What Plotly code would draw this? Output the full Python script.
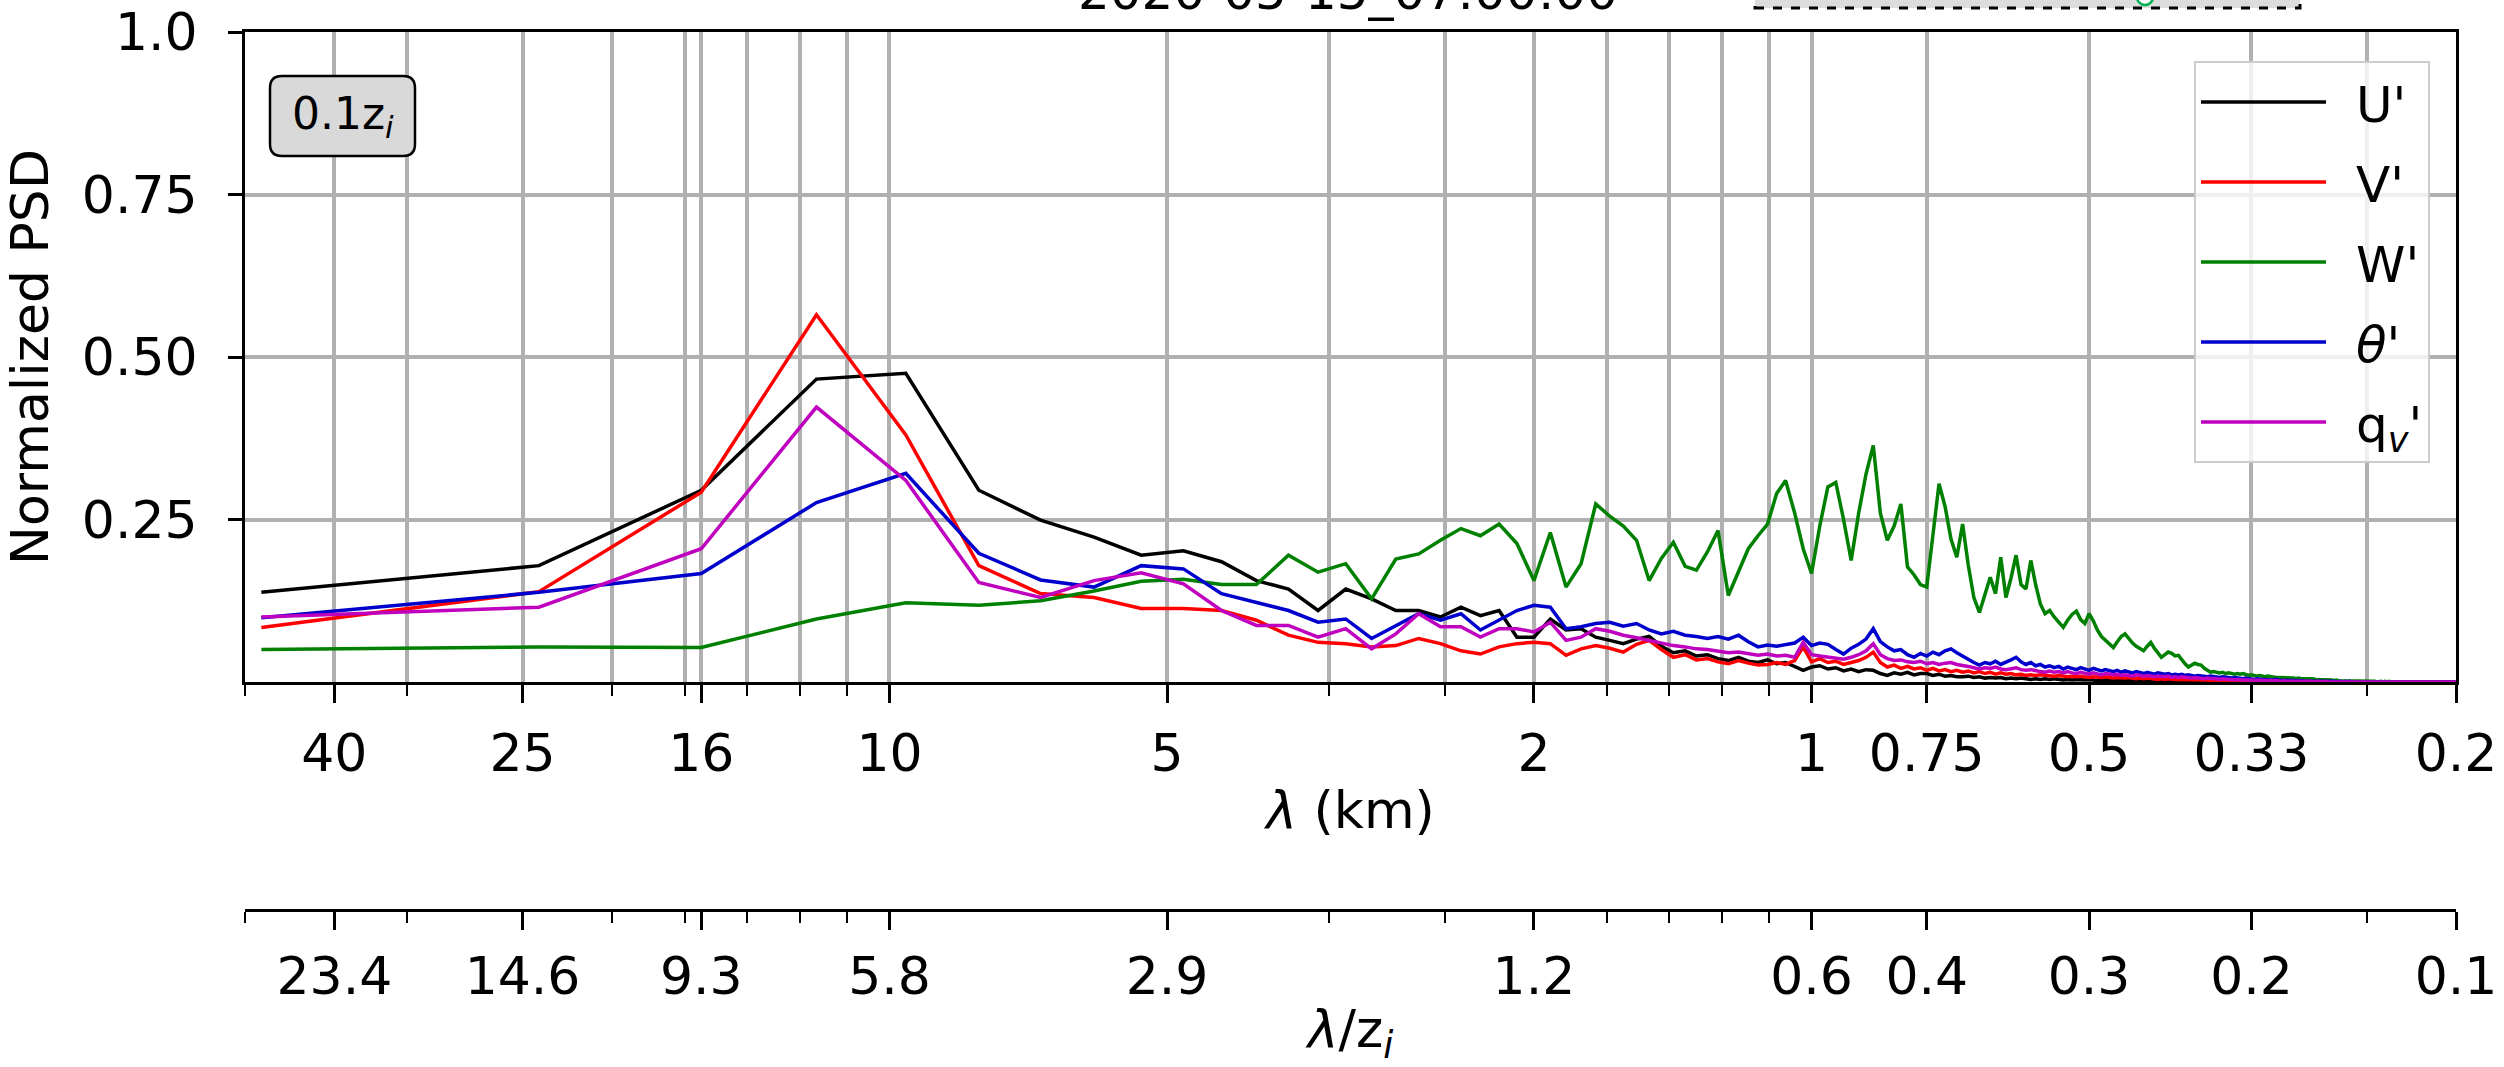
import math
import plotly.graph_objects as go

# ---------------- data ----------------
wavelength_km = [
    48, 24, 16, 12, 9.6, 8, 6.857, 6, 5.333, 4.8,
    4.364, 4, 3.692, 3.429, 3.2, 3, 2.824, 2.667, 2.526, 2.4,
    2.286, 2.182, 2.087, 2, 1.92, 1.846, 1.778, 1.714, 1.655, 1.6,
    1.548, 1.5, 1.455, 1.412, 1.371, 1.333, 1.297, 1.263, 1.231, 1.2,
    1.171, 1.143, 1.116, 1.091, 1.067, 1.043, 1.021, 1.0, 0.9796, 0.96,
    0.9412, 0.9231, 0.9057, 0.8889, 0.8727, 0.8571, 0.8421, 0.8276, 0.8136, 0.8,
    0.7869, 0.7742, 0.7619, 0.75, 0.7385, 0.7273, 0.7164, 0.7059, 0.6957, 0.6857,
    0.6761, 0.6667, 0.6575, 0.6486, 0.64, 0.6316, 0.6234, 0.6154, 0.6076, 0.6,
    0.5926, 0.5854, 0.5783, 0.5714, 0.5647, 0.5581, 0.5517, 0.5455, 0.5393, 0.5333,
    0.5275, 0.5217, 0.5161, 0.5106, 0.5053, 0.5, 0.4948, 0.4898, 0.4848, 0.48,
    0.4752, 0.4706, 0.466, 0.4615, 0.4571, 0.4528, 0.4486, 0.4444, 0.4404, 0.4364,
    0.4324, 0.4286, 0.4248, 0.4211, 0.4174, 0.4138, 0.4103, 0.4068, 0.4034, 0.4,
    0.3967, 0.3934, 0.3902, 0.3871, 0.384, 0.381, 0.378, 0.375, 0.3721, 0.3692,
    0.3664, 0.3636, 0.3609, 0.3582, 0.3556, 0.3529, 0.3504, 0.3478, 0.3453, 0.3429,
    0.3404, 0.338, 0.3357, 0.3333, 0.331, 0.3288, 0.3265, 0.3243, 0.3221, 0.32,
    0.3179, 0.3158, 0.3137, 0.3117, 0.3097, 0.3077, 0.3057, 0.3038, 0.3019, 0.3,
    0.2981, 0.2963, 0.2945, 0.2927, 0.2909, 0.2892, 0.2874, 0.2857, 0.284, 0.2824,
    0.2807, 0.2791, 0.2775, 0.2759, 0.2743, 0.2727, 0.2712, 0.2697, 0.2682, 0.2667,
    0.2652, 0.2637, 0.2623, 0.2609, 0.2595, 0.2581, 0.2567, 0.2553, 0.254, 0.2526,
    0.2513, 0.25, 0.2487, 0.2474, 0.2462, 0.2449, 0.2437, 0.2424, 0.2412, 0.24,
    0.2388, 0.2376, 0.2365, 0.2353, 0.2341, 0.233, 0.2319, 0.2308, 0.2297, 0.2286,
    0.2275, 0.2264, 0.2254, 0.2243, 0.2233, 0.2222, 0.2212, 0.2202, 0.2192, 0.2182,
    0.2172, 0.2162, 0.2152, 0.2143, 0.2133, 0.2124, 0.2115, 0.2105, 0.2096, 0.2087,
    0.2078, 0.2069, 0.206, 0.2051, 0.2043, 0.2034, 0.2025, 0.2017, 0.2008, 0.2,
]

psd_u = [
    0.138, 0.179, 0.295, 0.466, 0.475, 0.295, 0.249, 0.223, 0.195, 0.202,
    0.185, 0.156, 0.143, 0.110, 0.143, 0.128, 0.110, 0.110, 0.100, 0.115,
    0.102, 0.110, 0.069, 0.069, 0.097, 0.080, 0.082, 0.069, 0.064, 0.059,
    0.066, 0.070, 0.055, 0.045, 0.048, 0.040, 0.042, 0.036, 0.033, 0.038,
    0.032, 0.030, 0.034, 0.028, 0.030, 0.024, 0.018, 0.023, 0.025, 0.020,
    0.022, 0.017, 0.020, 0.016, 0.019, 0.018, 0.013, 0.010, 0.014, 0.012,
    0.015, 0.011, 0.013, 0.013, 0.010, 0.012, 0.009, 0.010, 0.008, 0.008,
    0.009, 0.007, 0.008, 0.006, 0.007, 0.006, 0.007, 0.005, 0.006, 0.005,
    0.006, 0.005, 0.004, 0.005, 0.004, 0.005, 0.004, 0.005, 0.004, 0.003,
    0.004, 0.003, 0.004, 0.003, 0.003, 0.004, 0.003, 0.002, 0.003, 0.003,
    0.002, 0.003, 0.002, 0.003, 0.002, 0.002, 0.003, 0.002, 0.002, 0.002,
    0.001, 0.002, 0.002, 0.001, 0.002, 0.001, 0.002, 0.001, 0.001, 0.002,
    0.001, 0.001, 0.002, 0.001, 0.001, 0.001, 0.001, 0.002, 0.001, 0.001,
    0.001, 0.001, 0.001, 0.001, 0.001, 0.001, 0.001, 0.001, 0.001, 0.001,
    0.001, 0.001, 0.000, 0.001, 0.001, 0.000, 0.001, 0.000, 0.001, 0.000,
    0.000, 0.001, 0.000, 0.001, 0.000, 0.000, 0.001, 0.000, 0.000, 0.000,
    0.001, 0.000, 0.000, 0.000, 0.000, 0.001, 0.000, 0.000, 0.000, 0.000,
    0.000, 0.000, 0.000, 0.000, 0.000, 0.000, 0.000, 0.000, 0.000, 0.000,
    0.000, 0.000, 0.000, 0.000, 0.000, 0.000, 0.000, 0.000, 0.000, 0.000,
    0.000, 0.000, 0.000, 0.000, 0.000, 0.000, 0.000, 0.000, 0.000, 0.000,
    0.000, 0.000, 0.000, 0.000, 0.000, 0.000, 0.000, 0.000, 0.000, 0.000,
    0.000, 0.000, 0.000, 0.000, 0.000, 0.000, 0.000, 0.000, 0.000, 0.000,
    0.000, 0.000, 0.000, 0.000, 0.000, 0.000, 0.000, 0.000, 0.000, 0.000,
    0.000, 0.000, 0.000, 0.000, 0.000, 0.000, 0.000, 0.000, 0.000, 0.000,
]

psd_v = [
    0.084, 0.139, 0.292, 0.565, 0.380, 0.179, 0.136, 0.130, 0.113, 0.113,
    0.110, 0.095, 0.072, 0.061, 0.059, 0.054, 0.056, 0.067, 0.059, 0.048,
    0.043, 0.054, 0.059, 0.061, 0.059, 0.041, 0.051, 0.056, 0.052, 0.046,
    0.058, 0.064, 0.050, 0.038, 0.042, 0.034, 0.036, 0.031, 0.028, 0.033,
    0.029, 0.026, 0.027, 0.030, 0.027, 0.033, 0.054, 0.031, 0.036, 0.030,
    0.032, 0.027, 0.030, 0.033, 0.038, 0.046, 0.030, 0.023, 0.026, 0.021,
    0.024, 0.020, 0.022, 0.018, 0.021, 0.017, 0.019, 0.016, 0.018, 0.015,
    0.017, 0.014, 0.016, 0.013, 0.015, 0.012, 0.014, 0.012, 0.013, 0.011,
    0.012, 0.010, 0.011, 0.010, 0.011, 0.010, 0.010, 0.009, 0.010, 0.009,
    0.008, 0.009, 0.008, 0.009, 0.008, 0.007, 0.008, 0.007, 0.007, 0.008,
    0.007, 0.006, 0.007, 0.006, 0.006, 0.007, 0.006, 0.005, 0.006, 0.005,
    0.006, 0.005, 0.005, 0.004, 0.005, 0.004, 0.005, 0.004, 0.004, 0.004,
    0.004, 0.003, 0.004, 0.003, 0.003, 0.004, 0.003, 0.003, 0.003, 0.002,
    0.003, 0.002, 0.003, 0.002, 0.002, 0.002, 0.002, 0.002, 0.002, 0.002,
    0.002, 0.001, 0.002, 0.001, 0.002, 0.001, 0.001, 0.001, 0.001, 0.001,
    0.001, 0.001, 0.001, 0.001, 0.001, 0.001, 0.001, 0.001, 0.001, 0.001,
    0.001, 0.001, 0.000, 0.001, 0.001, 0.000, 0.001, 0.000, 0.001, 0.000,
    0.000, 0.000, 0.000, 0.000, 0.000, 0.000, 0.000, 0.000, 0.000, 0.000,
    0.000, 0.000, 0.000, 0.000, 0.000, 0.000, 0.000, 0.000, 0.000, 0.000,
    0.000, 0.000, 0.000, 0.000, 0.000, 0.000, 0.000, 0.000, 0.000, 0.000,
    0.000, 0.000, 0.000, 0.000, 0.000, 0.000, 0.000, 0.000, 0.000, 0.000,
    0.000, 0.000, 0.000, 0.000, 0.000, 0.000, 0.000, 0.000, 0.000, 0.000,
    0.000, 0.000, 0.000, 0.000, 0.000, 0.000, 0.000, 0.000, 0.000, 0.000,
    0.000, 0.000, 0.000, 0.000, 0.000, 0.000, 0.000, 0.000, 0.000, 0.000,
]

psd_w = [
    0.050, 0.054, 0.053, 0.097, 0.122, 0.118, 0.125, 0.140, 0.155, 0.158,
    0.150, 0.150, 0.195, 0.169, 0.182, 0.128, 0.189, 0.197, 0.218, 0.236,
    0.225, 0.243, 0.213, 0.156, 0.230, 0.146, 0.182, 0.274, 0.255, 0.240,
    0.218, 0.156, 0.190, 0.215, 0.178, 0.172, 0.200, 0.233, 0.133, 0.170,
    0.205, 0.225, 0.243, 0.290, 0.310, 0.260, 0.205, 0.167, 0.240, 0.300,
    0.307, 0.250, 0.187, 0.260, 0.320, 0.364, 0.260, 0.218, 0.240, 0.274,
    0.177, 0.165, 0.150, 0.146, 0.230, 0.305, 0.270, 0.220, 0.192, 0.243,
    0.180, 0.130, 0.107, 0.135, 0.161, 0.136, 0.192, 0.130, 0.160, 0.195,
    0.150, 0.143, 0.187, 0.150, 0.120, 0.105, 0.110, 0.100, 0.092, 0.084,
    0.095, 0.104, 0.109, 0.096, 0.090, 0.105, 0.094, 0.080, 0.070, 0.064,
    0.058, 0.053, 0.062, 0.070, 0.074, 0.066, 0.060, 0.055, 0.052, 0.048,
    0.055, 0.061, 0.052, 0.044, 0.038, 0.042, 0.046, 0.044, 0.040, 0.041,
    0.034, 0.028, 0.023, 0.026, 0.029, 0.027, 0.026, 0.021, 0.018, 0.015,
    0.016, 0.015, 0.014, 0.015, 0.013, 0.014, 0.013, 0.012, 0.013, 0.012,
    0.013, 0.011, 0.010, 0.011, 0.010, 0.009, 0.010, 0.009, 0.008, 0.009,
    0.008, 0.008, 0.007, 0.007, 0.007, 0.006, 0.007, 0.006, 0.006, 0.006,
    0.005, 0.006, 0.005, 0.005, 0.006, 0.005, 0.006, 0.005, 0.004, 0.004,
    0.004, 0.003, 0.004, 0.003, 0.003, 0.003, 0.002, 0.003, 0.002, 0.002,
    0.002, 0.002, 0.002, 0.001, 0.002, 0.001, 0.001, 0.002, 0.001, 0.001,
    0.001, 0.001, 0.001, 0.001, 0.001, 0.001, 0.000, 0.001, 0.001, 0.000,
    0.001, 0.000, 0.001, 0.000, 0.000, 0.001, 0.000, 0.000, 0.000, 0.000,
    0.000, 0.000, 0.000, 0.000, 0.000, 0.000, 0.000, 0.000, 0.000, 0.000,
    0.000, 0.000, 0.000, 0.000, 0.000, 0.000, 0.000, 0.000, 0.000, 0.000,
    0.000, 0.000, 0.000, 0.000, 0.000, 0.000, 0.000, 0.000, 0.000, 0.000,
]

psd_theta = [
    0.099, 0.138, 0.167, 0.276, 0.321, 0.198, 0.157, 0.146, 0.179, 0.174,
    0.136, 0.123, 0.110, 0.092, 0.097, 0.067, 0.087, 0.105, 0.095, 0.105,
    0.080, 0.095, 0.110, 0.118, 0.115, 0.082, 0.085, 0.090, 0.092, 0.086,
    0.090, 0.080, 0.074, 0.078, 0.072, 0.070, 0.067, 0.070, 0.066, 0.072,
    0.062, 0.054, 0.057, 0.055, 0.058, 0.060, 0.069, 0.056, 0.060, 0.058,
    0.050, 0.043, 0.052, 0.058, 0.066, 0.082, 0.062, 0.054, 0.048, 0.050,
    0.042, 0.038, 0.044, 0.040, 0.046, 0.042, 0.048, 0.051, 0.045, 0.040,
    0.034, 0.030, 0.026, 0.030, 0.028, 0.032, 0.027, 0.030, 0.034, 0.038,
    0.031, 0.027, 0.030, 0.025, 0.027, 0.023, 0.025, 0.022, 0.024, 0.020,
    0.023, 0.021, 0.019, 0.022, 0.020, 0.018, 0.021, 0.019, 0.017, 0.019,
    0.018, 0.016, 0.018, 0.015, 0.017, 0.016, 0.014, 0.016, 0.015, 0.013,
    0.015, 0.014, 0.012, 0.014, 0.013, 0.012, 0.013, 0.011, 0.012, 0.011,
    0.012, 0.010, 0.011, 0.010, 0.009, 0.010, 0.009, 0.009, 0.008, 0.009,
    0.008, 0.008, 0.007, 0.008, 0.007, 0.007, 0.006, 0.007, 0.006, 0.006,
    0.005, 0.006, 0.005, 0.005, 0.004, 0.005, 0.004, 0.004, 0.004, 0.003,
    0.003, 0.003, 0.004, 0.003, 0.003, 0.003, 0.002, 0.003, 0.002, 0.002,
    0.002, 0.002, 0.002, 0.002, 0.001, 0.002, 0.001, 0.001, 0.002, 0.001,
    0.001, 0.001, 0.001, 0.001, 0.001, 0.001, 0.001, 0.000, 0.001, 0.001,
    0.000, 0.001, 0.000, 0.001, 0.000, 0.000, 0.001, 0.000, 0.000, 0.000,
    0.000, 0.000, 0.000, 0.000, 0.000, 0.000, 0.000, 0.000, 0.000, 0.000,
    0.000, 0.000, 0.000, 0.000, 0.000, 0.000, 0.000, 0.000, 0.000, 0.000,
    0.000, 0.000, 0.000, 0.000, 0.000, 0.000, 0.000, 0.000, 0.000, 0.000,
    0.000, 0.000, 0.000, 0.000, 0.000, 0.000, 0.000, 0.000, 0.000, 0.000,
    0.000, 0.000, 0.000, 0.000, 0.000, 0.000, 0.000, 0.000, 0.000, 0.000,
]

psd_qv = [
    0.100, 0.115, 0.205, 0.423, 0.310, 0.153, 0.130, 0.156, 0.168, 0.151,
    0.110, 0.087, 0.087, 0.069, 0.082, 0.051, 0.074, 0.105, 0.085, 0.085,
    0.069, 0.082, 0.082, 0.077, 0.092, 0.064, 0.069, 0.082, 0.078, 0.072,
    0.068, 0.064, 0.060, 0.056, 0.054, 0.051, 0.050, 0.048, 0.045, 0.046,
    0.043, 0.041, 0.043, 0.040, 0.041, 0.038, 0.061, 0.042, 0.040, 0.038,
    0.036, 0.035, 0.038, 0.042, 0.048, 0.059, 0.042, 0.036, 0.033, 0.034,
    0.031, 0.030, 0.032, 0.028, 0.030, 0.027, 0.029, 0.030, 0.027, 0.026,
    0.024, 0.022, 0.020, 0.022, 0.021, 0.023, 0.020, 0.019, 0.021, 0.022,
    0.019, 0.018, 0.019, 0.017, 0.016, 0.015, 0.017, 0.015, 0.016, 0.014,
    0.016, 0.014, 0.013, 0.015, 0.013, 0.012, 0.014, 0.012, 0.011, 0.013,
    0.012, 0.011, 0.012, 0.010, 0.011, 0.010, 0.009, 0.011, 0.010, 0.009,
    0.010, 0.009, 0.008, 0.009, 0.008, 0.008, 0.009, 0.007, 0.008, 0.007,
    0.008, 0.007, 0.007, 0.006, 0.007, 0.006, 0.006, 0.005, 0.006, 0.005,
    0.005, 0.005, 0.004, 0.005, 0.004, 0.004, 0.004, 0.003, 0.004, 0.003,
    0.003, 0.003, 0.003, 0.002, 0.003, 0.002, 0.002, 0.002, 0.002, 0.002,
    0.002, 0.002, 0.002, 0.002, 0.001, 0.002, 0.001, 0.001, 0.002, 0.001,
    0.001, 0.001, 0.001, 0.001, 0.001, 0.001, 0.001, 0.000, 0.001, 0.001,
    0.000, 0.001, 0.000, 0.001, 0.000, 0.000, 0.001, 0.000, 0.000, 0.000,
    0.000, 0.000, 0.000, 0.000, 0.000, 0.000, 0.000, 0.000, 0.000, 0.000,
    0.000, 0.000, 0.000, 0.000, 0.000, 0.000, 0.000, 0.000, 0.000, 0.000,
    0.000, 0.000, 0.000, 0.000, 0.000, 0.000, 0.000, 0.000, 0.000, 0.000,
    0.000, 0.000, 0.000, 0.000, 0.000, 0.000, 0.000, 0.000, 0.000, 0.000,
    0.000, 0.000, 0.000, 0.000, 0.000, 0.000, 0.000, 0.000, 0.000, 0.000,
    0.000, 0.000, 0.000, 0.000, 0.000, 0.000, 0.000, 0.000, 0.000, 0.000,
]

series_names = ["U'", "V'", "W'", "<i>θ</i>'", "q<sub><i>v</i></sub>'"]
series_values = [psd_u, psd_v, psd_w, psd_theta, psd_qv]
series_colors = ["#000000", "#ff0000", "#008000", "#0000cd", "#bf00bf"]

major_ticks_km = [40, 25, 16, 10, 5, 2, 1, 0.75, 0.5, 0.3333, 0.2]
major_labels_km = ["40", "25", "16", "10", "5", "2", "1", "0.75", "0.5", "0.33", "0.2"]
major_labels_zi = ["23.4", "14.6", "9.3", "5.8", "2.9", "1.2", "0.6", "0.4", "0.3", "0.2", "0.1"]
minor_ticks_km = [50, 33.33, 20, 16.67, 14.29, 12.5, 11.11, 3.333, 2.5, 1.667, 1.429, 1.25, 1.111, 0.25]
y_tick_vals = [0.25, 0.5, 0.75, 1.0]
y_tick_text = ["0.25", "0.50", "0.75", "1.0"]

# ---------------- layout geometry (pixels) ----------------
W, H = 2504, 1067
ML, MR, MT, MB = 245, 48, 32, 157
PW = W - ML - MR
PH = H - MT - MB
AX_BOTTOM_PX = 682


def pxx(px):
    return (px - ML) / PW


def pxy(py):
    return (H - MB - py) / PH


FONT = "DejaVu Sans"
GRID = "#b0b0b0"
x_range = [math.log10(50), math.log10(0.2)]

fig = go.Figure()
for name, vals, col in zip(series_names, series_values, series_colors):
    fig.add_trace(go.Scatter(
        x=wavelength_km, y=vals, mode="lines", name="\u2002" + name,
        line=dict(color=col, width=3.5), legendgroup=name,
    ))

# carrier trace for the second (λ/z_i) axis
fig.add_trace(go.Scatter(
    x=[major_ticks_km[0], major_ticks_km[-1]], y=[-1, -1], xaxis="x2", yaxis="y",
    mode="markers", marker=dict(color="rgba(0,0,0,0)"), showlegend=False, hoverinfo="skip",
))

fig.update_layout(
    width=W, height=H,
    margin=dict(l=ML, r=MR, t=MT, b=MB, autoexpand=False),
    paper_bgcolor="white", plot_bgcolor="white",
    font=dict(family=FONT, size=52, color="black"),
    showlegend=True,
    legend=dict(
        x=pxx(2430), xanchor="right", y=pxy(61), yanchor="top",
        bgcolor="rgba(255,255,255,0.8)", bordercolor="#cccccc", borderwidth=2,
        font=dict(family=FONT, size=50), tracegroupgap=12, itemwidth=125,
    ),
    xaxis=dict(
        type="log", range=x_range, autorange=False,
        tickmode="array", tickvals=major_ticks_km, ticktext=major_labels_km,
        ticks="outside", ticklen=18, tickwidth=2.5, tickcolor="black",
        ticklabelstandoff=6,
        showgrid=True, gridcolor=GRID, gridwidth=4,
        minor=dict(tickmode="array", tickvals=minor_ticks_km, ticks="outside",
                   ticklen=11, tickwidth=2, tickcolor="black",
                   showgrid=True, gridcolor=GRID, gridwidth=4),
        showline=True, linecolor="black", linewidth=3, mirror=True, zeroline=False,
        title=dict(text="<i>λ</i> (km)", standoff=10, font=dict(size=52)),
        anchor="y", automargin=False,
    ),
    xaxis2=dict(
        type="log", range=x_range, autorange=False, overlaying="x",
        anchor="free", position=0, side="bottom",
        tickmode="array", tickvals=major_ticks_km, ticktext=major_labels_zi,
        ticks="outside", ticklen=18, tickwidth=2.5, tickcolor="black",
        ticklabelstandoff=2,
        showgrid=False,
        minor=dict(tickmode="array", tickvals=minor_ticks_km, ticks="outside",
                   ticklen=11, tickwidth=2, tickcolor="black", showgrid=False),
        showline=True, linecolor="black", linewidth=2.5, zeroline=False,
        title=dict(text="<i>λ</i>/z<sub><i>i</i></sub>", standoff=14, font=dict(size=52)),
        automargin=False,
    ),
    yaxis=dict(
        domain=[pxy(AX_BOTTOM_PX), 1], range=[0, 1], autorange=False,
        tickmode="array", tickvals=y_tick_vals, ticktext=y_tick_text,
        ticks="outside", ticklen=14, tickwidth=2.5, tickcolor="black",
        ticklabelstandoff=20,
        showgrid=True, gridcolor=GRID, gridwidth=4,
        showline=True, linecolor="black", linewidth=3, mirror=True, zeroline=False,
        title=dict(text="Normalized PSD", standoff=18, font=dict(size=52)),
        automargin=False,
    ),
)

# rounded label box "0.1 z_i"
bx0, by0, bx1, by1, r = 270, 76, 415, 156, 12
path = (
    f"M {pxx(bx0 + r)},{pxy(by0)} L {pxx(bx1 - r)},{pxy(by0)} "
    f"Q {pxx(bx1)},{pxy(by0)} {pxx(bx1)},{pxy(by0 + r)} "
    f"L {pxx(bx1)},{pxy(by1 - r)} Q {pxx(bx1)},{pxy(by1)} {pxx(bx1 - r)},{pxy(by1)} "
    f"L {pxx(bx0 + r)},{pxy(by1)} Q {pxx(bx0)},{pxy(by1)} {pxx(bx0)},{pxy(by1 - r)} "
    f"L {pxx(bx0)},{pxy(by0 + r)} Q {pxx(bx0)},{pxy(by0)} {pxx(bx0 + r)},{pxy(by0)} Z"
)
fig.add_shape(type="path", path=path, xref="paper", yref="paper",
              fillcolor="#d9d9d9", line=dict(color="black", width=2.5), layer="above")
fig.add_annotation(x=pxx((bx0 + bx1) / 2), y=pxy((by0 + by1) / 2), xref="paper", yref="paper",
                   xanchor="center", yanchor="middle",
                   text="0.1z<sub><i>i</i></sub>", showarrow=False,
                   font=dict(family=FONT, size=44, color="black"))

# remnants of the panel above (cut at the top edge)
fig.add_annotation(x=pxx(1348), y=pxy(-8), xref="paper", yref="paper",
                   xanchor="center", yanchor="middle",
                   text="2020-05-15_07:00:00", showarrow=False,
                   font=dict(family=FONT, size=50, color="black"))
fig.add_shape(type="rect", xref="paper", yref="paper",
              x0=pxx(1755), x1=pxx(2300), y0=pxy(8), y1=pxy(-60),
              fillcolor="#dcdcdc", line=dict(color="black", width=3, dash="dash"), layer="above")
fig.add_shape(type="circle", xref="paper", yref="paper",
              x0=pxx(2137), x1=pxx(2153), y0=pxy(5), y1=pxy(-11),
              fillcolor="white", line=dict(color="#00b050", width=2.5), layer="above")

fig.write_html("out.html", config={"displayModeBar": False})
